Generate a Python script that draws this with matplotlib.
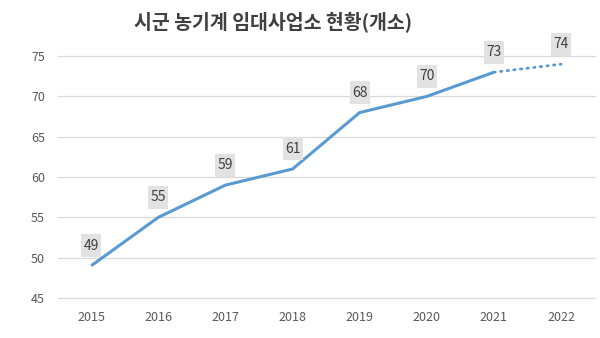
import matplotlib
matplotlib.use("Agg")
import matplotlib.pyplot as plt
from matplotlib.patches import Rectangle

plt.rcParams['font.family'] = ['Noto Sans CJK KR', 'DejaVu Sans']

years = ['2015', '2016', '2017', '2018', '2019', '2020', '2021', '2022']
values = [49, 55, 59, 61, 68, 70, 73, 74]
title = '시군 농기계 임대사업소 현황(개소)'

fig = plt.figure(figsize=(6, 3.38), dpi=100)
ax = fig.add_axes([0.096, 0.1183, 0.895, 0.7157])

x = list(range(len(years)))
line_color = '#5a9ad2'
ax.plot(x[:7], values[:7], color=line_color, lw=2.2, solid_capstyle='butt', zorder=3)
ax.plot(x[6:], values[6:], color=line_color, lw=2.0, linestyle=(0, (0.5, 1.9)),
        dash_capstyle='round', zorder=3)

ax.set_xlim(-0.5, len(years) - 0.5)
ax.set_ylim(45, 75)

# data labels with gray boxes (offset in pixels above points)
for xi, v in zip(x, values):
    px, py = ax.transData.transform((xi, v))
    cy = py + 20
    fig.patches.append(Rectangle((px - 10, cy - 11.5), 20, 23, transform=None,
                                 fc='#e2e2e2', ec='none', zorder=4, figure=fig))
    fig.text(px / fig.bbox.width, cy / fig.bbox.height, str(v), ha='center', va='center',
             fontsize=10, color='#404040', zorder=5)

ax.set_yticks([45, 50, 55, 60, 65, 70, 75])
ax.set_xticks(x)
ax.set_xticklabels(years)
ax.yaxis.grid(True, color='#d9d9d9', lw=0.9)
ax.set_axisbelow(True)
for s in ax.spines.values():
    s.set_visible(False)
ax.tick_params(axis='both', length=0, labelsize=9, colors='#595959')
ax.tick_params(axis='x', pad=9)
ax.tick_params(axis='y', pad=9)
for gl in ax.get_ygridlines():
    gl.set_clip_on(False)

fig.text(0.455, 0.932, title, ha='center', va='center', fontsize=14, fontweight='bold', color='#404040')

fig.savefig('out.png', dpi=100, facecolor='white')
